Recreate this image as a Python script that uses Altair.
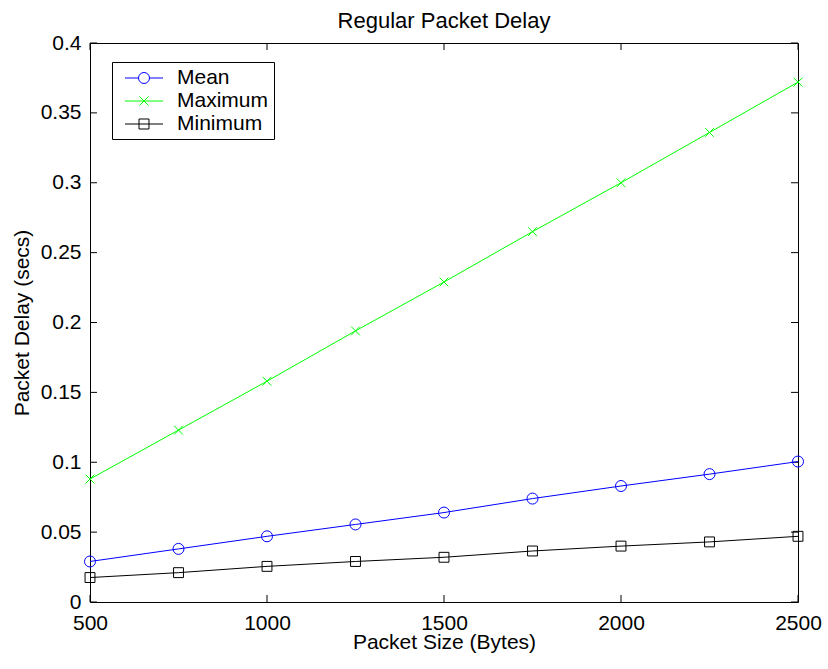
import altair as alt
import pandas as pd

# ---- data ----
packet_size = [500, 750, 1000, 1250, 1500, 1750, 2000, 2250, 2500]
mean_delay = [0.029, 0.038, 0.047, 0.0555, 0.064, 0.074, 0.083, 0.0915, 0.1005]
max_delay = [0.088, 0.123, 0.158, 0.194, 0.229, 0.265, 0.300, 0.336, 0.372]
min_delay = [0.0175, 0.021, 0.0255, 0.029, 0.032, 0.0365, 0.040, 0.043, 0.047]
series_names = ["Mean", "Maximum", "Minimum"]
series_colors = ["#0000ff", "#00ff00", "#000000"]
x_ticks = [500, 1000, 1500, 2000, 2500]
y_ticks = [0, 0.05, 0.1, 0.15, 0.2, 0.25, 0.3, 0.35, 0.4]

rows = []
for name, vals in zip(series_names, [mean_delay, max_delay, min_delay]):
    for s, v in zip(packet_size, vals):
        rows.append({"size": s, "delay": v, "series": name})
df = pd.DataFrame(rows)
xt = pd.DataFrame({"v": x_ticks})
yt = pd.DataFrame({"v": y_ticks})

W, H = 708, 559
FONT = "Liberation Sans"
TL = 7

# marker shapes (unit square coords)
plot_paths = [
    "M1,0A1,1 0 1,1 -1,0A1,1 0 1,1 1,0Z",
    "M-0.8,-0.8L0.8,0.8M-0.8,0.8L0.8,-0.8",
    "M-0.9,-0.9L0.9,-0.9L0.9,0.9L-0.9,0.9Z",
]
legend_paths = [
    "M-1.81,0L-0.524,0M0.524,0L1.81,0M0.524,0A0.524,0.524 0 1,1 -0.524,0A0.524,0.524 0 1,1 0.524,0",
    "M-1.81,0L1.81,0M-0.43,-0.43L0.43,0.43M-0.43,0.43L0.43,-0.43",
    "M-1.81,0L1.81,0M-0.476,-0.476L0.476,-0.476L0.476,0.476L-0.476,0.476Z",
]
LSIZE = 441

xscale = alt.Scale(domain=[500, 2500], nice=False, zero=False)
yscale = alt.Scale(domain=[0, 0.4], nice=False, zero=True)
xaxis = alt.Axis(values=x_ticks, format="d", ticks=False, domain=False, grid=False,
                 labelPadding=10, labelFlush=False, title="Packet Size (Bytes)",
                 titleBaseline="alphabetic", titleY=46)
yaxis = alt.Axis(values=y_ticks, format="~g", ticks=False, domain=False, grid=False,
                 labelPadding=9, labelFlush=False, title="Packet Delay (secs)",
                 titleBaseline="alphabetic", titleX=-62)

X = alt.X("size:Q", scale=xscale, axis=xaxis)
Y = alt.Y("delay:Q", scale=yscale, axis=yaxis)

cscale = alt.Scale(domain=series_names, range=series_colors)

legend_def = alt.Legend(
    title=None, orient="none", legendX=22, legendY=19,
    strokeColor="black", fillColor="white", padding=5, cornerRadius=0,
    labelFont=FONT, labelFontSize=21, labelColor="black", labelOffset=22,
    symbolOffset=16, labelExpr="datum.label + '\u00a0\u00a0'",
    symbolSize=LSIZE, symbolStrokeWidth=1, rowPadding=2, labelLimit=300)

lines = alt.Chart(df).mark_line(strokeWidth=1).encode(
    x=X, y=Y, color=alt.Color("series:N", scale=cscale, legend=None)
)
points = alt.Chart(df).mark_point(filled=False, size=121, strokeWidth=1, opacity=1).encode(
    x=X, y=Y,
    color=alt.Color("series:N", scale=cscale, legend=None),
    shape=alt.Shape("series:N", scale=alt.Scale(domain=series_names, range=plot_paths), legend=None),
)
legend_layer = alt.Chart(df).transform_filter("false").mark_point(
    filled=False, size=LSIZE, strokeWidth=1, opacity=1
).encode(
    x=X, y=Y,
    color=alt.Color("series:N", scale=cscale, legend=legend_def),
    shape=alt.Shape("series:N", scale=alt.Scale(domain=series_names, range=legend_paths),
                    legend=legend_def),
)

Xt = alt.X("v:Q", scale=xscale, axis=xaxis)
Yt = alt.Y("v:Q", scale=yscale, axis=yaxis)
rc = dict(color="black", strokeWidth=1)
t_bottom = alt.Chart(xt).mark_rule(**rc).encode(x=Xt, y=alt.value(H), y2=alt.value(H - TL))
t_top = alt.Chart(xt).mark_rule(**rc).encode(x=Xt, y=alt.value(0), y2=alt.value(TL))
t_left = alt.Chart(yt).mark_rule(**rc).encode(y=Yt, x=alt.value(0), x2=alt.value(TL))
t_right = alt.Chart(yt).mark_rule(**rc).encode(y=Yt, x=alt.value(W), x2=alt.value(W - TL))

chart = alt.layer(
    t_bottom, t_top, t_left, t_right, lines, points, legend_layer
).resolve_scale(
    color="independent", shape="independent"
).properties(
    width=W, height=H,
    background="white",
    title=alt.TitleParams("Regular Packet Delay", font=FONT, fontSize=22,
                          fontWeight="normal", color="black", anchor="middle",
                          baseline="alphabetic", offset=2, dy=20),
    autosize=alt.AutoSizeParams(type="none"),
    padding={"left": 90, "top": 43, "right": 30, "bottom": 67},
).configure_view(
    stroke="black", strokeWidth=1
).configure_axis(
    labelFont=FONT, labelFontSize=21, labelColor="black",
    titleFont=FONT, titleFontSize=21, titleColor="black", titleFontWeight="normal",
)

chart.save("out.html", embed_options={"renderer": "svg", "actions": False})
